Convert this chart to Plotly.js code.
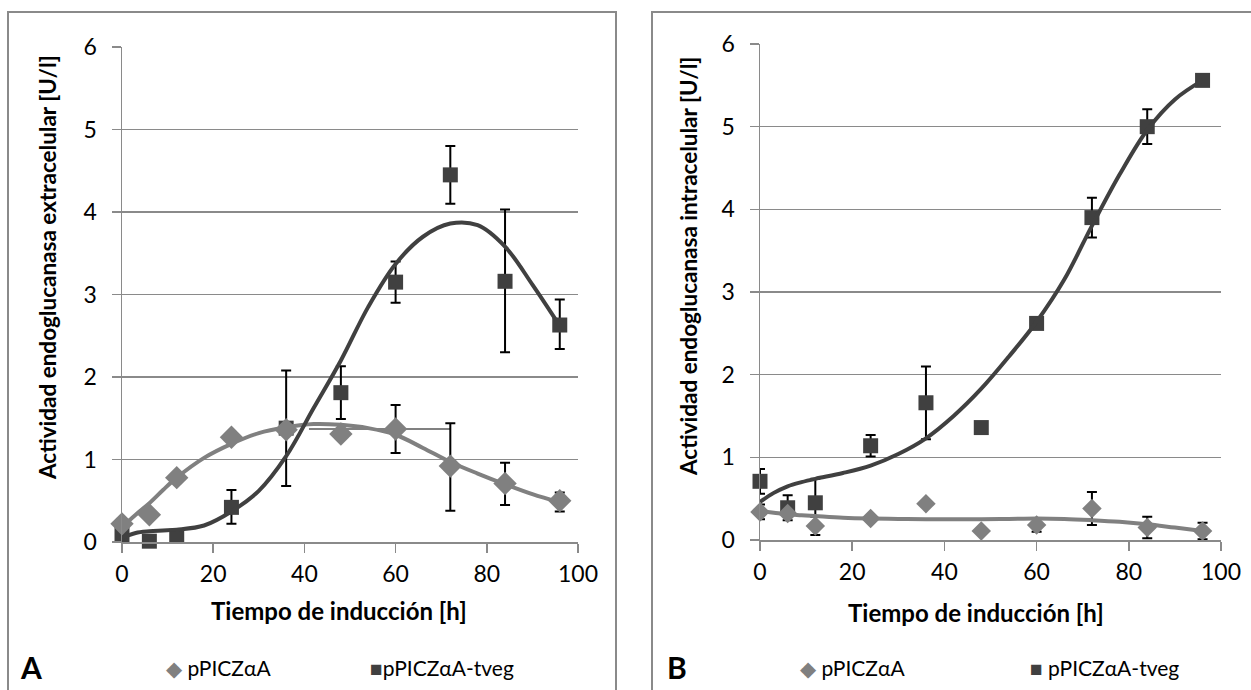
<!DOCTYPE html>
<html>
<head>
<meta charset="utf-8">
<script src="https://cdn.plot.ly/plotly-3.0.1.min.js"></script>
<style>html,body{margin:0;padding:0;background:#fff;}#chart{width:1251px;height:690px;}</style>
</head>
<body>
<div id="chart"></div>
<script>
// ---- data ----
const timeH = [0, 6, 12, 24, 36, 48, 60, 72, 84, 96];

// Panel A: extracellular activity [U/l]
const extCtrl = [0.22, 0.33, 0.78, 1.27, 1.36, 1.31, 1.37, 0.92, 0.71, 0.50];
const extCtrlErrPlus = [null, null, null, null, null, null, 0.29, 0.52, 0.25, 0.10];
const extCtrlErrMinus = [null, null, null, null, null, null, 0.29, 0.54, 0.26, 0.13];
const extCtrlErrXPlus = [null, null, null, null, null, null, 12, null, null, null];
const extCtrlErrXMinus = [null, null, null, null, null, null, 19, null, null, null];
const extTveg = [0.09, 0.01, 0.07, 0.42, 1.38, 1.81, 3.15, 4.45, 3.16, 2.63];
const extTvegErrPlus = [null, null, null, 0.21, 0.70, 0.32, 0.25, 0.35, 0.87, 0.31];
const extTvegErrMinus = [null, null, null, 0.20, 0.70, 0.32, 0.25, 0.35, 0.86, 0.29];

// Panel B: intracellular activity [U/l]
const intCtrl = [0.34, 0.32, 0.17, 0.26, 0.44, 0.11, 0.18, 0.38, 0.15, 0.11];
const intCtrlErr = [0.09, null, 0.11, null, null, null, 0.08, 0.20, 0.13, 0.10];
const intTveg = [0.71, 0.39, 0.45, 1.14, 1.66, 1.36, 2.62, 3.90, 5.00, 5.56];
const intTvegErr = [0.15, 0.15, 0.29, 0.13, 0.44, null, null, 0.24, 0.21, null];

// Trend lines
const trendX = [0, 3, 6, 9, 12, 18, 24, 30, 36, 42, 48, 54, 60, 66, 72, 78, 84, 90, 96];
const extCtrlTrend = [0.18, 0.33, 0.47, 0.63, 0.78, 1.02, 1.19, 1.32, 1.39, 1.43, 1.42, 1.38, 1.30, 1.14, 0.97, 0.83, 0.70, 0.58, 0.48];
const extTvegTrend = [0.05, 0.11, 0.13, 0.14, 0.15, 0.20, 0.37, 0.62, 1.04, 1.62, 2.20, 2.85, 3.37, 3.70, 3.86, 3.84, 3.58, 3.12, 2.62];
const intCtrlTrend = [0.35, 0.33, 0.31, 0.30, 0.29, 0.27, 0.26, 0.255, 0.25, 0.25, 0.25, 0.255, 0.26, 0.255, 0.24, 0.22, 0.19, 0.15, 0.11];
const intTvegTrend = [0.46, 0.57, 0.65, 0.70, 0.74, 0.81, 0.90, 1.04, 1.23, 1.50, 1.83, 2.22, 2.64, 3.15, 3.80, 4.42, 4.96, 5.33, 5.56];

const seriesNames = ['pPICZαA', 'pPICZαA-tveg'];
const xTicks = [0, 20, 40, 60, 80, 100];
const yTicks = [0, 1, 2, 3, 4, 5, 6];
const xTitle = 'Tiempo de inducción [h]';
const yTitleA = 'Actividad endoglucanasa extracelular [U/l]';
const yTitleB = 'Actividad endoglucanasa intracelular [U/l]';

// ---- styles ----
const W = 1251, H = 690;
const FONT = 'Lato, "Liberation Sans", sans-serif';
const CTRL = '#808080', TVEG = '#404040', GRID = '#8a8a8a';
const px = v => v / W, py = v => 1 - v / H;

function err(plus, minus) {
  return {type: 'data', symmetric: false, array: plus, arrayminus: minus,
          color: '#000', thickness: 2, width: 5, visible: true};
}
function pts(x, y, name, sym, size, color, ex, ey, xa, ya) {
  const t = {x: x, y: y, name: name, type: 'scatter', mode: 'markers',
    marker: {symbol: sym, size: size, color: color}, xaxis: xa, yaxis: ya,
    showlegend: false, error_y: ey, cliponaxis: false};
  if (ex) t.error_x = ex;
  return t;
}
function curve(x, y, color, xa, ya) {
  return {x: x, y: y, type: 'scatter', mode: 'lines', hoverinfo: 'skip',
    line: {color: color, width: 4, shape: 'spline', smoothing: 1}, xaxis: xa, yaxis: ya,
    showlegend: false};
}

const traces = [
  pts(timeH, extTveg, seriesNames[1], 'square', 15, TVEG, null, err(extTvegErrPlus, extTvegErrMinus), 'x', 'y'),
  pts(timeH, extCtrl, seriesNames[0], 'diamond', 18, CTRL,
      {type: 'data', symmetric: false, array: extCtrlErrXPlus, arrayminus: extCtrlErrXMinus,
       color: CTRL, thickness: 2, width: 0},
      err(extCtrlErrPlus, extCtrlErrMinus), 'x', 'y'),
  curve(trendX, extCtrlTrend, CTRL, 'x', 'y'),
  curve(trendX, extTvegTrend, TVEG, 'x', 'y'),
  pts(timeH, intTveg, seriesNames[1], 'square', 15, TVEG, null, err(intTvegErr, intTvegErr), 'x2', 'y2'),
  pts(timeH, intCtrl, seriesNames[0], 'diamond', 15, CTRL, null, err(intCtrlErr, intCtrlErr), 'x2', 'y2'),
  curve(trendX, intCtrlTrend, CTRL, 'x2', 'y2'),
  curve(trendX, intTvegTrend, TVEG, 'x2', 'y2')
];

function xax(domain, anchor) {
  return {domain: domain, anchor: anchor, range: [0, 100], tickvals: xTicks,
    showgrid: false, zeroline: false, showline: true, linecolor: GRID, linewidth: 1.5,
    ticks: 'outside', ticklen: 9, tickwidth: 1.5, tickcolor: GRID,
    ticklabelstandoff: 2,
    tickfont: {family: FONT, size: 23, color: '#000'}, fixedrange: true};
}
function yax(domain, anchor) {
  return {domain: domain, anchor: anchor, range: [0, 6], tickvals: yTicks,
    showgrid: true, gridcolor: GRID, gridwidth: 1.5, zeroline: false,
    showline: true, linecolor: GRID, linewidth: 1.5,
    ticks: 'outside', ticklen: 9, tickwidth: 1.5, tickcolor: GRID,
    ticklabelstandoff: 10,
    tickfont: {family: FONT, size: 23, color: '#000'}, fixedrange: true};
}

function ann(text, x, y, opts) {
  return Object.assign({text: text, x: px(x), y: py(y), xref: 'paper', yref: 'paper',
    showarrow: false, xanchor: 'center', yanchor: 'middle',
    font: {family: FONT, size: 22.5, color: '#000'}}, opts || {});
}

const legendFont = {family: FONT, size: 21, color: '#000'};
const layout = {
  width: W, height: H, margin: {l: 0, r: 0, t: 0, b: 0},
  paper_bgcolor: '#fff', plot_bgcolor: 'rgba(0,0,0,0)', showlegend: false,
  xaxis: xax([px(122), px(578)], 'y'),
  yaxis: yax([py(542), py(47)], 'x'),
  xaxis2: xax([px(760), px(1221)], 'y2'),
  yaxis2: yax([py(540), py(44)], 'x2'),
  shapes: [
    {type: 'rect', xref: 'paper', yref: 'paper', x0: px(8), x1: px(616), y0: -0.1, y1: py(12),
     line: {color: GRID, width: 2}, layer: 'below'},
    {type: 'rect', xref: 'paper', yref: 'paper', x0: px(652), x1: 1.1, y0: -0.1, y1: py(12),
     line: {color: GRID, width: 2}, layer: 'below'}
  ],
  annotations: [
    ann('<b>' + yTitleA + '</b>', 47, 268, {textangle: -90}),
    ann('<b>' + yTitleB + '</b>', 688, 267, {textangle: -90}),
    ann('<b>' + xTitle + '</b>', 339, 610, {font: {family: FONT, size: 24, color: '#000'}}),
    ann('<b>' + xTitle + '</b>', 976, 612, {font: {family: FONT, size: 24, color: '#000'}}),
    ann('<b>A</b>', 31, 667, {font: {family: FONT, size: 30, color: '#000'}}),
    ann('<b>B</b>', 677, 667, {font: {family: FONT, size: 30, color: '#000'}}),
    ann('<span style="color:' + CTRL + '">◆</span> ' + seriesNames[0], 164, 667, {xanchor: 'left', font: legendFont}),
    ann('<span style="color:' + TVEG + '">■</span>' + seriesNames[1], 368, 667, {xanchor: 'left', font: legendFont}),
    ann('<span style="color:' + CTRL + '">◆</span> ' + seriesNames[0], 798, 667, {xanchor: 'left', font: legendFont}),
    ann('<span style="color:' + TVEG + '">■</span> ' + seriesNames[1], 1028, 667, {xanchor: 'left', font: legendFont})
  ]
};

Plotly.newPlot('chart', traces, layout, {staticPlot: true, displayModeBar: false});
</script>
</body>
</html>
